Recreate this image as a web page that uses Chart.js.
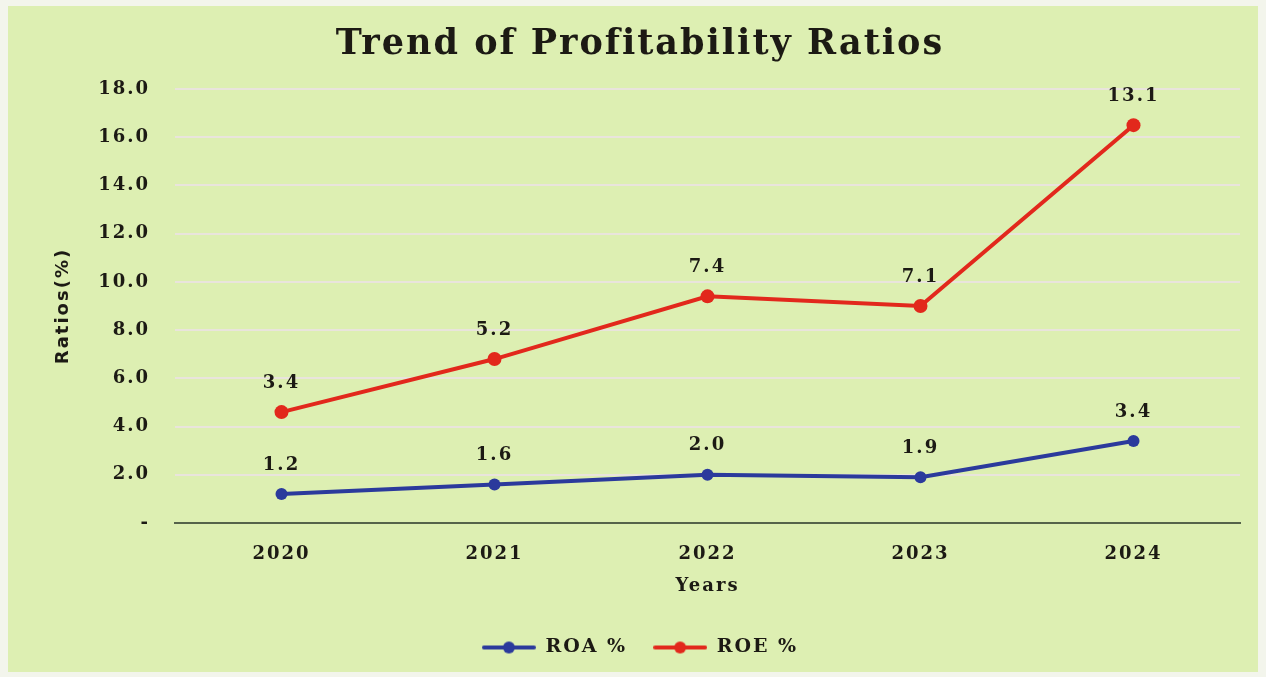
<!DOCTYPE html>
<html>
<head>
<meta charset="utf-8">
<script src="https://cdn.jsdelivr.net/npm/chart.js@4/dist/chart.umd.min.js"></script>
<style>
  html, body { margin: 0; padding: 0; background: #f3f5ec; }
  #wrap { position: absolute; left: 8px; top: 6px; width: 1250px; height: 666px; background: #ddefb2; }
  #ratioChart { position: absolute; left: -8px; top: -6px; }
</style>
</head>
<body>
<div id="wrap"><canvas id="ratioChart" width="1266" height="677"></canvas></div>
<script>
// === PROFITABILITY RATIOS ===

const years = ['2020', '2021', '2022', '2023', '2024'];
const roa = [1.2, 1.6, 2.0, 1.9, 3.4];
const roe = [3.4, 5.2, 7.4, 7.1, 13.1];
const yTicks = [0, 2, 4, 6, 8, 10, 12, 14, 16, 18];

const BLUE = '#2b3a9c';
const RED = '#e2281c';
const INK = '#1c1a14';
const SERIF = '"DejaVu Serif", serif';

// little line-with-dot marker for the legend
function legendMarker(color) {
    const c = document.createElement('canvas');
    c.width = 54; c.height = 14;
    const g = c.getContext('2d');
    g.strokeStyle = color; g.lineWidth = 4; g.lineCap = 'round';
    g.beginPath(); g.moveTo(2, 7); g.lineTo(52, 7); g.stroke();
    g.fillStyle = color;
    g.beginPath(); g.arc(27, 7, 6, 0, Math.PI * 2); g.fill();
    return c;
}

// value labels above every point (raw value, not stacked)
const valueLabels = {
    id: 'valueLabels',
    afterDatasetsDraw(chart) {
        const ctx = chart.ctx;
        ctx.save();
        ctx.font = 'bold 18px ' + SERIF;
        ctx.fillStyle = INK;
        ctx.textAlign = 'center';
        ctx.textBaseline = 'middle';
        chart.data.datasets.forEach((ds, i) => {
            chart.getDatasetMeta(i).data.forEach((pt, j) => {
                ctx.fillText(ds.data[j].toFixed(1), pt.x, pt.y - 29);
            });
        });
        ctx.restore();
    }
};

// wide, spaced-out lettering for all the text
const spacing = {
    id: 'spacing',
    beforeUpdate(chart) { chart.ctx.letterSpacing = '2px'; },
    beforeDraw(chart) { chart.ctx.letterSpacing = '2px'; }
};

new Chart(document.getElementById('ratioChart'), {
    type: 'line',
    data: {
        labels: years,
        datasets: [
            { label: 'ROA %', data: roa, borderColor: BLUE, backgroundColor: BLUE, borderWidth: 4, pointRadius: 6, pointBackgroundColor: BLUE, pointBorderWidth: 0, tension: 0, fill: false },
            { label: 'ROE %', data: roe, borderColor: RED, backgroundColor: RED, borderWidth: 4, pointRadius: 7, pointBackgroundColor: RED, pointBorderWidth: 0, tension: 0, fill: false }
        ]
    },
    options: {
        responsive: false,
        animation: false,
        layout: { padding: { left: 14, right: 0, top: 21, bottom: 10 } },
        plugins: {
            title: {
                display: true,
                text: 'Trend of Profitability Ratios',
                color: INK,
                font: { family: SERIF, size: 35, weight: 'bold' },
                padding: { top: 3, bottom: 23 }
            },
            legend: {
                position: 'bottom',
                labels: {
                    color: INK,
                    font: { family: SERIF, size: 19, weight: 'bold' },
                    usePointStyle: true,
                    pointStyleWidth: 54,
                    padding: 26,
                    generateLabels(chart) {
                        const items = Chart.defaults.plugins.legend.labels.generateLabels(chart);
                        items.forEach((it, i) => { it.pointStyle = legendMarker(i === 0 ? BLUE : RED); it.fontColor = INK; });
                        return items;
                    }
                }
            },
            tooltip: { enabled: false }
        },
        scales: {
            x: {
                offset: true,
                afterFit(scale) { scale.height = 89; },
                grid: { display: false, drawTicks: false },
                border: { display: true, color: '#55634a', width: 2 },
                ticks: { color: INK, font: { family: SERIF, size: 18, weight: 'bold' }, padding: 21 },
                title: { display: true, text: 'Years', color: INK, font: { family: SERIF, size: 18, weight: 'bold' }, padding: { top: 0, bottom: 15 } }
            },
            y: {
                stacked: true,
                min: 0,
                max: 18,
                afterBuildTicks(scale) { scale.ticks = yTicks.map(v => ({ value: v })); },
                afterFit(scale) { scale.width = 161; },
                grid: { color: '#e9e4dc', lineWidth: 2, drawTicks: false },
                border: { display: false },
                ticks: {
                    color: INK,
                    font: { family: SERIF, size: 18, weight: 'bold' },
                    padding: 25,
                    callback: v => v === 0 ? '-' : v.toFixed(1)
                },
                title: { display: true, text: 'Ratios(%)', color: INK, font: { family: '"DejaVu Sans", sans-serif', size: 18, weight: 'bold' }, padding: { top: 39, bottom: 0 } }
            },
            // empty strip on the right so the plot ends short of the edge
            yRight: {
                position: 'right',
                display: true,
                afterFit(scale) { scale.width = 26; },
                grid: { display: false, drawTicks: false },
                border: { display: false },
                ticks: { display: false }
            }
        }
    },
    plugins: [spacing, valueLabels]
});
</script>
</body>
</html>
